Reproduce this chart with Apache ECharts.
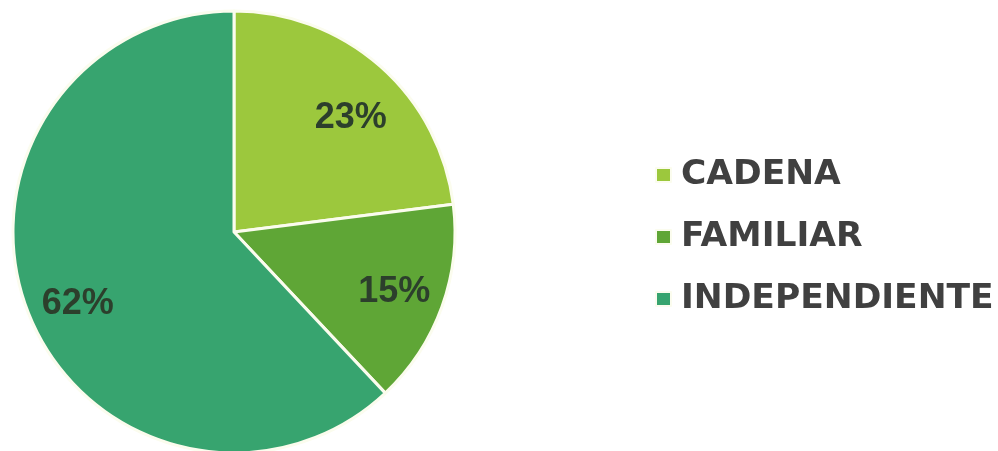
<!DOCTYPE html>
<html>
<head>
<meta charset="utf-8">
<script src="https://cdn.jsdelivr.net/npm/echarts@6/dist/echarts.min.js"></script>
<style>
html,body{margin:0;padding:0;background:#fff;}
#c{width:998px;height:451px;}
</style>
</head>
<body>
<div id="c"></div>
<script>
const categories = ['CADENA', 'FAMILIAR', 'INDEPENDIENTE'];
const values = [23, 15, 62];
const colors = ['#9cc83d', '#5fa636', '#37a46f'];
const labelNudges = [[2, 16], [-3, 1], [5, 8]];

const chart = echarts.init(document.getElementById('c'), null, {renderer: 'canvas'});
const mainData = categories.map((n, i) => ({name: n, value: values[i], itemStyle: {color: colors[i]}}));
const labelData = categories.map((n, i) => ({name: n, value: values[i], label: {offset: labelNudges[i]}}));

chart.setOption({
  animation: false,
  backgroundColor: '#ffffff',
  legend: {
    orient: 'vertical',
    left: 650,
    top: 150,
    itemWidth: 15,
    itemHeight: 14,
    itemGap: 22,
    icon: 'rect',
    data: categories,
    textStyle: {
      fontFamily: 'DejaVu Sans',
      fontWeight: 'bold',
      fontSize: 34.5,
      lineHeight: 40,
      color: '#404040',
      padding: [0, 0, 0, 5]
    },
    selectedMode: false
  },
  series: [
    {
      type: 'pie',
      center: [234, 232],
      radius: [0, 221],
      startAngle: 90,
      clockwise: true,
      silent: true,
      label: {show: false},
      labelLine: {show: false},
      itemStyle: {borderColor: '#fbfcee', borderWidth: 3},
      data: mainData
    },
    {
      type: 'pie',
      center: [234, 232],
      radius: [120, 221],
      startAngle: 90,
      clockwise: true,
      silent: true,
      itemStyle: {color: 'rgba(0,0,0,0)', borderWidth: 0},
      label: {
        show: true,
        position: 'inside',
        formatter: '{c}%',
        fontFamily: 'Liberation Sans',
        fontWeight: 'bold',
        fontSize: 36,
        color: '#2c3f2c'
      },
      labelLine: {show: false},
      data: labelData
    }
  ]
});
</script>
</body>
</html>
